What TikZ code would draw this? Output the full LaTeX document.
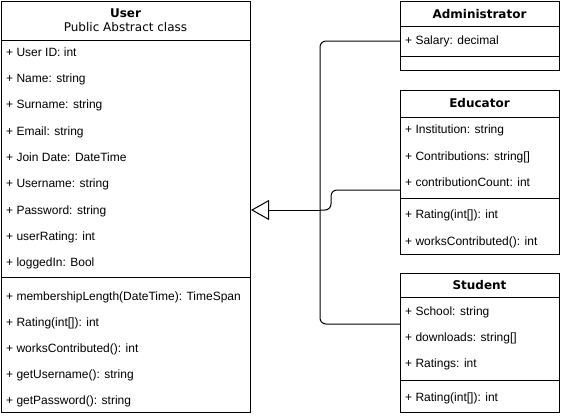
\documentclass[tikz,border=0pt]{standalone}
\usepackage{fontspec}
\setmainfont{Liberation Sans}
\newfontfamily\titlefont{DejaVu Sans}
\usetikzlibrary{arrows.meta}
\tikzset{
  classbox/.style={draw, line width=1pt, anchor=north west, inner sep=0pt},
  divider/.style={line width=1pt},
  attr/.style={anchor=west, inner sep=0pt, text height=8.6pt, text depth=0pt, font=\fontsize{12}{14}\selectfont},
  ctitle/.style={inner sep=0pt, text height=8.6pt, text depth=0pt, font=\titlefont\bfseries\fontsize{12}{14}\selectfont},
  conn/.style={line width=1pt, rounded corners=6pt}
}
\begin{document}
\begin{tikzpicture}[x=1pt,y=-1pt]
    \useasboundingbox (0,0) rectangle (561,416);
    \node[classbox, minimum width=249pt, minimum height=411pt] (user) at (1,1) {};
    \node[classbox, minimum width=159pt, minimum height=69pt] (admin) at (400,1) {};
    \node[classbox, minimum width=159pt, minimum height=164pt] (edu) at (400,90) {};
    \node[classbox, minimum width=159pt, minimum height=139pt] (stud) at (400,273) {};
    \draw[divider] (user.west |- 0,40) -- (user.east |- 0,40);
    \draw[divider] (user.west |- 0,277) -- (user.east |- 0,277);
    \draw[divider] (admin.west |- 0,26) -- (admin.east |- 0,26);
    \draw[divider] (admin.west |- 0,56) -- (admin.east |- 0,56);
    \draw[divider] (edu.west |- 0,117) -- (edu.east |- 0,117);
    \draw[divider] (edu.west |- 0,198) -- (edu.east |- 0,198);
    \draw[divider] (stud.west |- 0,297) -- (stud.east |- 0,297);
    \draw[divider] (stud.west |- 0,380) -- (stud.east |- 0,380);
    \node[ctitle] (usertitle) at (125.5,13) {User};
    \node[ctitle, font=\titlefont\fontsize{12}{14}\selectfont] (usersub) at (125.5,27) {Public Abstract class};
    \node[ctitle] (admintitle) at (479.5,14) {Administrator};
    \node[ctitle] (edutitle) at (479.5,103) {Educator};
    \node[ctitle] (studtitle) at (479.5,285) {Student};
    \node[attr] (u1) at (6,52) {+ User ID: int};
    \node[attr] (u2) at (6,78) {+ Name: string};
    \node[attr] (u3) at (6,104) {+ Surname: string};
    \node[attr] (u4) at (6,131) {+ Email: string};
    \node[attr] (u5) at (6,157) {+ Join Date: DateTime};
    \node[attr] (u6) at (6,183) {+ Username: string};
    \node[attr] (u7) at (6,210) {+ Password: string};
    \node[attr] (u8) at (6,236) {+ userRating: int};
    \node[attr] (u9) at (6,262) {+ loggedIn: Bool};
    \node[attr] (um1) at (6,296) {+ membershipLength(DateTime): TimeSpan};
    \node[attr] (um2) at (6,322) {+ Rating(int[]): int};
    \node[attr] (um3) at (6,348) {+ worksContributed(): int};
    \node[attr] (um4) at (6,374) {+ getUsername(): string};
    \node[attr] (um5) at (6,400) {+ getPassword(): string};
    \node[attr] (a1) at (405,40) {+ Salary: decimal};
    \node[attr] (e1) at (405,129) {+ Institution: string};
    \node[attr] (e2) at (405,156) {+ Contributions: string[]};
    \node[attr] (e3) at (405,182) {+ contributionCount: int};
    \node[attr] (em1) at (405,214) {+ Rating(int[]): int};
    \node[attr] (em2) at (405,241) {+ worksContributed(): int};
    \node[attr] (s1) at (405,311) {+ School: string};
    \node[attr] (s2) at (405,337) {+ downloads: string[]};
    \node[attr] (s3) at (405,363) {+ Ratings: int};
    \node[attr] (sm1) at (405,397) {+ Rating(int[]): int};
    \coordinate (trunk) at (320,210);
    \draw[conn, -{Triangle[open, length=18pt, width=20pt]}] (trunk) -- (user.east |- trunk);
    \draw[conn] (admin.west |- 0,41) -| (trunk);
    \draw[conn] (stud.west |- 0,324) -| (trunk);
    \draw[conn] (edu.west |- 0,190) -| (331,210) -- (trunk);
\end{tikzpicture}
\end{document}
